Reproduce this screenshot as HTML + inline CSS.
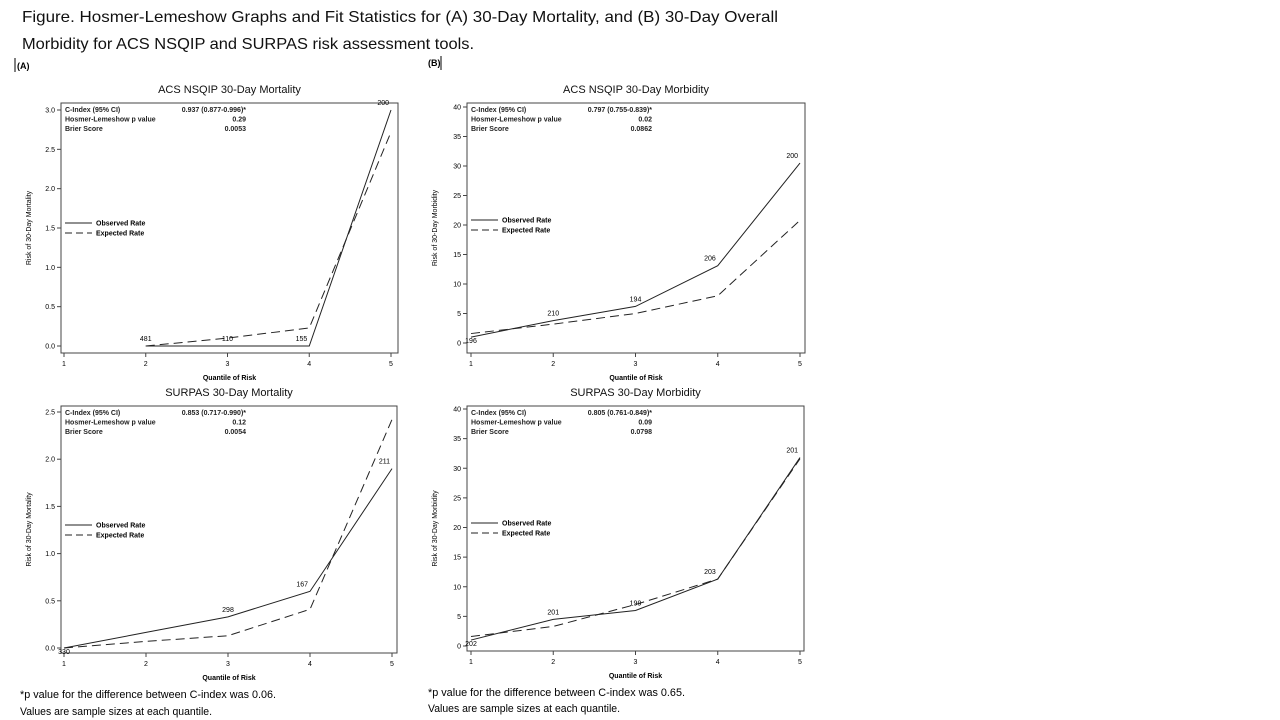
<!DOCTYPE html>
<html><head><meta charset="utf-8">
<style>
html,body{margin:0;padding:0;background:#fff;}
svg{display:block;font-family:"Liberation Sans",sans-serif;}
</style></head>
<body>
<svg id="root" width="1280" height="720" viewBox="0 0 1280 720">
<text x="22" y="22" font-size="16" textLength="756" lengthAdjust="spacingAndGlyphs" fill="#111">Figure.  Hosmer-Lemeshow Graphs and Fit Statistics for (A) 30-Day Mortality, and (B) 30-Day Overall</text>
<text x="22" y="49" font-size="16" textLength="452" lengthAdjust="spacingAndGlyphs" fill="#111">Morbidity for ACS NSQIP and SURPAS risk assessment tools.</text>
<line x1="15" y1="58" x2="15" y2="72" stroke="#000"/>
<text x="17" y="69" font-size="9" font-weight="bold">(A)</text>
<text x="428" y="66" font-size="9" font-weight="bold">(B)</text>
<line x1="441" y1="56" x2="441" y2="70" stroke="#000"/>
<text x="20" y="698" font-size="11" textLength="256" lengthAdjust="spacingAndGlyphs">*p value for the difference between C-index was 0.06.</text>
<text x="20" y="715" font-size="11" textLength="192" lengthAdjust="spacingAndGlyphs">Values are sample sizes at each quantile.</text>
<text x="428" y="696" font-size="11" textLength="257" lengthAdjust="spacingAndGlyphs">*p value for the difference between C-index was 0.65.</text>
<text x="428" y="712" font-size="11" textLength="192" lengthAdjust="spacingAndGlyphs">Values are sample sizes at each quantile.</text>
</svg>
<script>
const quantiles = [1,2,3,4,5];
// Panel A: ACS NSQIP Mortality
const aObsX = [2,3,4,5];
const aObs = [0,0,0,3.0];
const aExpX = [2,3,4,5];
const aExp = [0,0.1,0.23,2.72];
const aN = ["481","110","155","200"];
const aTicks = ["0.0","0.5","1.0","1.5","2.0","2.5","3.0"];
const aStats = ["0.937 (0.877-0.996)*","0.29","0.0053"];
// Panel B: ACS NSQIP Morbidity
const bObs = [1.0,3.8,6.2,13.1,30.5];
const bExp = [1.6,3.2,5.0,8.0,20.8];
const bN = ["196","210","194","206","200"];
const bTicks = ["0","5","10","15","20","25","30","35","40"];
const bStats = ["0.797 (0.755-0.839)*","0.02","0.0862"];
// Panel C: SURPAS Mortality
const cObs = [0,0.165,0.33,0.6,1.9];
const cExp = [0,0.07,0.13,0.41,2.42];
const cN = ["330","","298","167","211"];
const cTicks = ["0.0","0.5","1.0","1.5","2.0","2.5"];
const cStats = ["0.853 (0.717-0.990)*","0.12","0.0054"];
// Panel D: SURPAS Morbidity
const dObs = [1.0,4.5,6.0,11.3,31.8];
const dExp = [1.6,3.3,7.0,11.3,31.6];
const dN = ["202","201","199","203","201"];
const dTicks = ["0","5","10","15","20","25","30","35","40"];
const dStats = ["0.805 (0.761-0.849)*","0.09","0.0798"];

const NS="http://www.w3.org/2000/svg";
const root=document.getElementById('root');
function mk(tag,attrs,parent){const e=document.createElementNS(NS,tag);for(const k in attrs)e.setAttribute(k,attrs[k]);(parent||root).appendChild(e);return e;}

function panel(o){
  const g=mk('g',{});
  
  
  const x=v=>o.x1+(v-1)*(o.x5-o.x1)/4;
  const y=v=>o.y0-(v)*(o.y0-o.yTop)/o.yMax;
  const t=mk('text',{x:(o.fl+o.fr)/2,y:o.ft-10,'font-size':11,'text-anchor':'middle',fill:'#111'},g);t.textContent=o.title;
  
  
  const fr=mk('rect',{x:o.fl,y:o.ft,width:o.fr-o.fl,height:o.fb-o.ft,fill:'none',stroke:'#444','stroke-width':1},g);
  
  
  // y ticks
  o.ticks.forEach((lab,i)=>{
    const v=i*o.yMax/(o.ticks.length-1);const yy=y(v);
    mk('line',{x1:o.fl-4,x2:o.fl,y1:yy,y2:yy,stroke:'#444'},g);
    const tt=mk('text',{x:o.fl-6,y:yy+2.5,'font-size':7,'text-anchor':'end'},g);tt.textContent=lab;
    
    
  });
  quantiles.forEach(q=>{
    const xx=x(q);
    mk('line',{x1:xx,x2:xx,y1:o.fb,y2:o.fb+4,stroke:'#444'},g);
    const tt=mk('text',{x:xx,y:o.fb+13,'font-size':7,'text-anchor':'middle'},g);tt.textContent=q;
    
    
  });
  const xt=mk('text',{x:(o.fl+o.fr)/2,y:o.fb+27,'font-size':7,'font-weight':'bold','text-anchor':'middle'},g);xt.textContent='Quantile of Risk';
  
  
  const cy=(o.ft+o.fb)/2;
  const yt=mk('text',{x:0,y:0,'font-size':7,'text-anchor':'middle',transform:`translate(${o.fl-30},${cy}) rotate(-90)`},g);yt.textContent=o.ytitle;
  
  
  // stats
  const labels=["C-Index (95% CI)","Hosmer-Lemeshow p value","Brier Score"];
  labels.forEach((l,i)=>{
    const a=mk('text',{x:o.fl+4,y:o.ft+9+i*9.5,'font-size':7,'font-weight':'bold',fill:'#222'},g);a.textContent=l;
    
    
    const b=mk('text',{x:o.fl+185,y:o.ft+9+i*9.5,'font-size':7,'font-weight':'bold','text-anchor':'end',fill:'#222'},g);b.textContent=o.stats[i];
    
    
  });
  // legend
  const ly=o.legY;
  mk('line',{x1:o.fl+4,x2:o.fl+31,y1:ly,y2:ly,stroke:'#222','stroke-width':0.9},g);
  const l1=mk('text',{x:o.fl+35,y:ly+2.5,'font-size':7,'font-weight':'bold'},g);l1.textContent='Observed Rate';
  
  
  mk('line',{x1:o.fl+4,x2:o.fl+31,y1:ly+10,y2:ly+10,stroke:'#222','stroke-width':0.9,'stroke-dasharray':'7,4'},g);
  const l2=mk('text',{x:o.fl+35,y:ly+12.5,'font-size':7,'font-weight':'bold'},g);l2.textContent='Expected Rate';
  
  
  // series
  const pts=(xs,vs)=>vs.map((v,i)=>x(xs[i])+','+y(v)).join(' ');
  const ob=mk('polyline',{points:pts(o.obsX,o.obs),fill:'none',stroke:'#222','stroke-width':1},g);
  
  
  const ex=mk('polyline',{points:pts(o.expX,o.exp),fill:'none',stroke:'#222','stroke-width':1,'stroke-dasharray':'9,5'},g);
  
  
  o.n.forEach((s,i)=>{
    if(!s)return;
    const q=o.obsX[i];const v=o.obs[i];
    let xx=x(q),anchor='middle';
    if(q===5){anchor='end';xx-=2;} else if(q===4){anchor='end';xx-=2;}
    const yy=(v===0&&q===1)||o.below&&q===1? y(v)+6: y(v)-5;
    const nt=mk('text',{x:xx,y:yy,'font-size':7,'text-anchor':anchor},g);nt.textContent=s;
    
    
  });
}
panel({name:'chart-acs-nsqip-mortality',title:'ACS NSQIP 30-Day Mortality',fl:61,fr:398,ft:103,fb:353,x1:64,x5:391,y0:346,yTop:110,yMax:3,ticks:aTicks,stats:aStats,ytitle:'Risk of 30-Day Mortality',legY:223,obsX:aObsX,obs:aObs,expX:aExpX,exp:aExp,n:aN});
panel({name:'chart-acs-nsqip-morbidity',title:'ACS NSQIP 30-Day Morbidity',fl:467,fr:805,ft:103,fb:353,x1:471,x5:800,y0:343,yTop:107,yMax:40,ticks:bTicks,stats:bStats,ytitle:'Risk of 30-Day Morbidity',legY:220,obsX:quantiles,obs:bObs,expX:quantiles,exp:bExp,n:bN,below:true});
panel({name:'chart-surpas-mortality',title:'SURPAS 30-Day Mortality',fl:61,fr:397,ft:406,fb:653,x1:64,x5:392,y0:648,yTop:412,yMax:2.5,ticks:cTicks,stats:cStats,ytitle:'Risk of 30-Day Mortality',legY:525,obsX:quantiles,obs:cObs,expX:quantiles,exp:cExp,n:cN});
panel({name:'chart-surpas-morbidity',title:'SURPAS 30-Day Morbidity',fl:467,fr:804,ft:406,fb:651,x1:471,x5:800,y0:646,yTop:409,yMax:40,ticks:dTicks,stats:dStats,ytitle:'Risk of 30-Day Morbidity',legY:523,obsX:quantiles,obs:dObs,expX:quantiles,exp:dExp,n:dN,below:true});
</script>
</body></html>
